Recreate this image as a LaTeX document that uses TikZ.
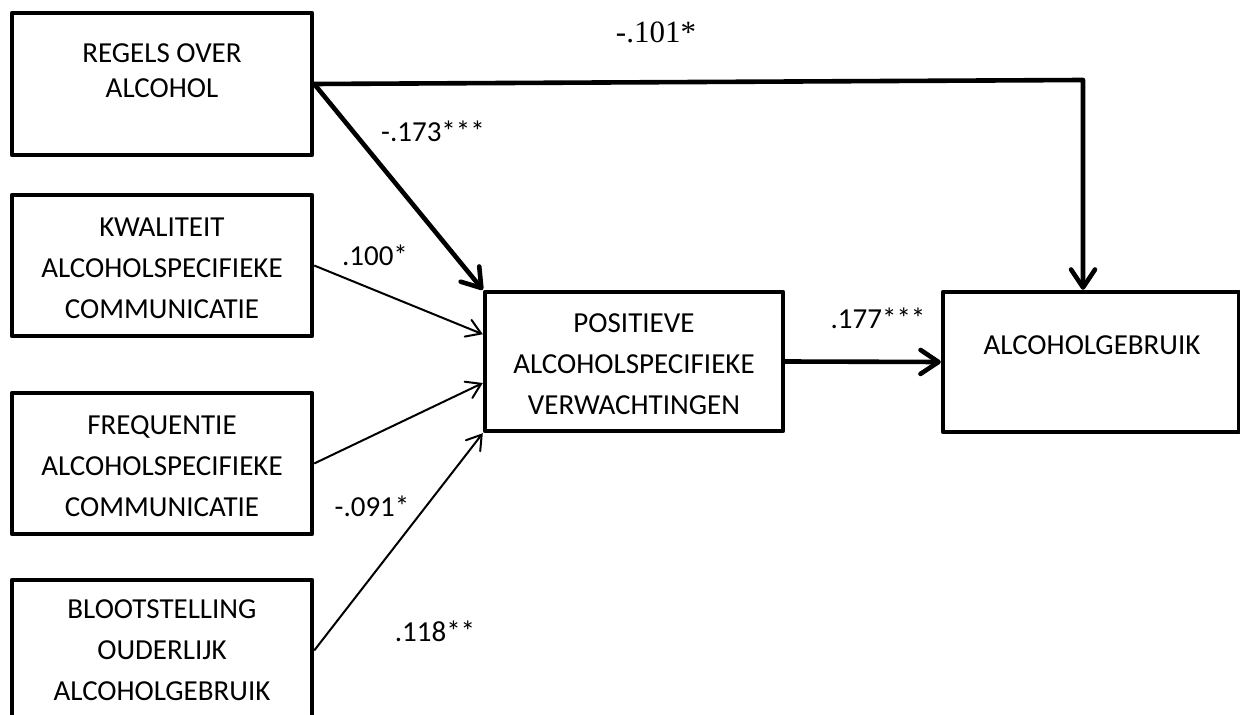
\documentclass[tikz,border=0pt]{standalone}
\usepackage{fontspec}
\setmainfont{Carlito}
\newfontfamily\timesfont{Liberation Serif}
\usetikzlibrary{arrows.meta,calc}
\begin{document}
\begin{tikzpicture}[x=0.5pt,y=-0.5pt,
  box/.style={draw, line width=2.2pt, minimum width=150pt, inner sep=0pt, line join=round},
  boxtxt/.style={align=center, inner sep=0pt, font=\fontsize{14.5}{20.5}\selectfont},
  lbl/.style={anchor=base, inner sep=0pt, font=\fontsize{14.5}{17}\selectfont},
  thickarr/.style={line width=2.3pt, line join=round, -{Straight Barb[length=9pt,width=12pt,line cap=round,line join=round]}},
  thinarr/.style={line width=1pt, -{Straight Barb[length=7pt,width=9pt,line cap=round]}},
]
\useasboundingbox (0,0) rectangle (1240,715);
\clip (0,0) rectangle (1240,715);

% boxes
\node[box, minimum height=71pt] (b1) at (162,84) {};
\node[box, minimum height=70.5pt] (b2) at (162,265.5) {};
\node[box, minimum height=70.5pt] (b3) at (162,463.5) {};
\node[box, minimum height=70.5pt] (b4) at (162,650.5) {};
\node[box, minimum width=149pt, minimum height=69.5pt] (b5) at (634,361.5) {};
\node[box, minimum width=148pt, minimum height=70pt] (b6) at (1091,362) {};

% box texts
\node[boxtxt, font=\fontsize{14.5}{17.5}\selectfont] (t1) at (162,71) {REGELS OVER\\ALCOHOL};
\node[boxtxt] (t2) at (162,268) {KWALITEIT\\ALCOHOLSPECIFIEKE\\COMMUNICATIE};
\node[boxtxt] (t3) at (162,466.5) {FREQUENTIE\\ALCOHOLSPECIFIEKE\\COMMUNICATIE};
\node[boxtxt] (t4) at (162,650.5) {BLOOTSTELLING\\OUDERLIJK\\ALCOHOLGEBRUIK};
\node[boxtxt] (t5) at (634,364) {POSITIEVE\\ALCOHOLSPECIFIEKE\\VERWACHTINGEN};
\node[boxtxt] (t6) at (1092,345.5) {ALCOHOLGEBRUIK};

% connectors
\coordinate (k) at (1083,80);
\coordinate (p2) at ($(b5.north west)!0.31!(b5.south west)$);
\coordinate (p3) at ($(b5.north west)!0.65!(b5.south west)$);
\draw[thickarr] (b1.east) -- (k) -- (k |- b6.north);
\draw[thickarr] (b1.east) -- (b5.north west);
\draw[thinarr] (b2.east) -- (p2);
\draw[thinarr] (b3.east) -- (p3);
\draw[thinarr] (b4.east) -- (b5.south west);
\draw[thickarr] (b5.east) -- (b6.west);

% labels
\node[lbl, font=\timesfont\fontsize{15.5}{18}\selectfont] (l0) at (656,43) {-.101*};
\node[lbl] (l1) at (433,142) {-.173***};
\node[lbl] (l2) at (375,266) {.100*};
\node[lbl] (l3) at (878,329) {.177***};
\node[lbl] (l4) at (372,516) {-.091*};
\node[lbl] (l5) at (435,641) {.118**};
\end{tikzpicture}
\end{document}
